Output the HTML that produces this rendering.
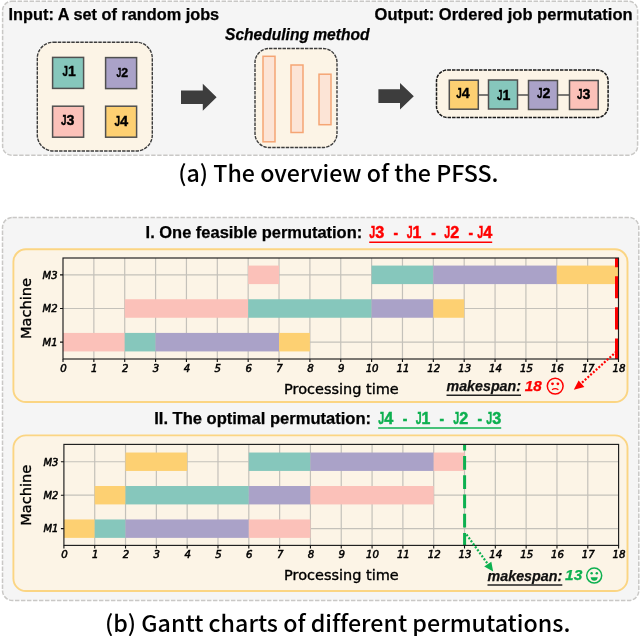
<!DOCTYPE html>
<html lang="en"><head><meta charset="utf-8"><title>PFSS overview and Gantt charts</title>
<style>
html,body{margin:0;padding:0;background:#fff;}
svg{display:block;}
.cb{font-family:"Liberation Sans",sans-serif;font-weight:bold;color:#000;fill:currentColor;stroke:currentColor;stroke-width:0.25px;}
.cbi{font-family:"Liberation Sans",sans-serif;font-weight:bold;font-style:italic;color:#000;fill:currentColor;stroke:currentColor;stroke-width:0.25px;}
.cap{font-family:"Noto Sans CJK SC","DejaVu Sans","Liberation Sans",sans-serif;font-weight:500;fill:#000;font-variant-ligatures:none;font-feature-settings:"liga" 0,"clig" 0;}
.dv{font-family:"DejaVu Sans",sans-serif;fill:#000;stroke:#000;stroke-width:0.35px;}
.tk{font-family:"DejaVu Sans",sans-serif;font-style:italic;fill:#000;stroke:#000;stroke-width:0.5px;}
</style></head><body>
<svg width="640" height="636" viewBox="0 0 640 636" role="img" aria-label="PFSS overview and Gantt charts">

<rect x="2.6" y="1.3" width="635" height="153.9" rx="9" fill="#f5f5f5" stroke="#c9c8c6" stroke-width="1.5" stroke-dasharray="4.4 1.6"/>
<text x="8.6" y="20.3" class="cb" font-size="15.8" text-anchor="start" textLength="210.6" lengthAdjust="spacingAndGlyphs" >Input: A set of random jobs</text>
<text x="225" y="39.8" class="cbi" font-size="15.8" text-anchor="start" textLength="144.5" lengthAdjust="spacingAndGlyphs" >Scheduling method</text>
<text x="374.6" y="20.3" class="cb" font-size="15.8" text-anchor="start" textLength="258" lengthAdjust="spacingAndGlyphs" >Output: Ordered job permutation</text>
<rect x="37.3" y="42.2" width="115" height="108.8" rx="16" fill="#fcf4e6" stroke="#3c3c3c" stroke-width="1.4" stroke-dasharray="3.45 1.05"/>
<rect x="52.6" y="57.4" width="31" height="31" fill="#86c7bc" stroke="#505050" stroke-width="1.5"/>
<text y="76.0" class="cb" font-size="14.6" style="stroke-width:0.4px"><tspan x="62.6" textLength="5.41" lengthAdjust="spacingAndGlyphs">J</tspan><tspan x="68.01" textLength="7.79" lengthAdjust="spacingAndGlyphs">1</tspan></text>
<rect x="105.6" y="57.6" width="31" height="31" fill="#aaa2c8" stroke="#505050" stroke-width="1.5"/>
<text y="76.6" class="cb" font-size="12.6" style="stroke-width:0.4px"><tspan x="116.5" textLength="4.76" lengthAdjust="spacingAndGlyphs">J</tspan><tspan x="121.26" textLength="6.84" lengthAdjust="spacingAndGlyphs">2</tspan></text>
<rect x="52.6" y="106.2" width="31" height="31" fill="#fbc1b9" stroke="#505050" stroke-width="1.5"/>
<text y="124.7" class="cb" font-size="14" style="stroke-width:0.4px"><tspan x="61" textLength="5.49" lengthAdjust="spacingAndGlyphs">J</tspan><tspan x="66.49" textLength="7.91" lengthAdjust="spacingAndGlyphs">3</tspan></text>
<rect x="105.6" y="106.2" width="31" height="31" fill="#fdd072" stroke="#505050" stroke-width="1.5"/>
<text y="125.6" class="cb" font-size="14.5" style="stroke-width:0.4px"><tspan x="114.4" textLength="5.66" lengthAdjust="spacingAndGlyphs">J</tspan><tspan x="120.06" textLength="8.14" lengthAdjust="spacingAndGlyphs">4</tspan></text>
<path d="M181 90.5H202.8V83.8L216.6 97.25L202.8 110.7V104H181Z" fill="#3d3d3d"/>
<path d="M378.4 89.3H400V83L413.8 96.2L400 109.4V103H378.4Z" fill="#3d3d3d"/>
<rect x="255" y="48.5" width="82" height="99" rx="14" fill="#fcf4e6" stroke="#3c3c3c" stroke-width="1.4" stroke-dasharray="3.45 1.05"/>
<rect x="263" y="56.3" width="12" height="85.5" fill="#fce4d6" stroke="#f5a574" stroke-width="1.5"/>
<rect x="291" y="65" width="12" height="67.5" fill="#fce4d6" stroke="#f5a574" stroke-width="1.5"/>
<rect x="319" y="74.2" width="12" height="50.5" fill="#fce4d6" stroke="#f5a574" stroke-width="1.5"/>
<rect x="436.5" y="70" width="171.6" height="47.5" rx="11" fill="#fcf4e6" stroke="#1a1a1a" stroke-width="1.5" stroke-dasharray="3.45 1.05"/>
<path d="M478 95H489M518 95H529M558 95H569" stroke="#505050" stroke-width="1.7"/>
<rect x="449.3" y="80.2" width="29" height="29" fill="#fdd072" stroke="#505050" stroke-width="1.5"/>
<text y="98.2" class="cb" font-size="15.2" style="stroke-width:0.4px"><tspan x="456.2" textLength="5.49" lengthAdjust="spacingAndGlyphs">J</tspan><tspan x="461.69" textLength="7.91" lengthAdjust="spacingAndGlyphs">4</tspan></text>
<rect x="488.5" y="80" width="29" height="29" fill="#86c7bc" stroke="#505050" stroke-width="1.5"/>
<text y="99.6" class="cb" font-size="15.2" style="stroke-width:0.4px"><tspan x="496.9" textLength="5.49" lengthAdjust="spacingAndGlyphs">J</tspan><tspan x="502.39" textLength="7.91" lengthAdjust="spacingAndGlyphs">1</tspan></text>
<rect x="528.5" y="80.5" width="29" height="29" fill="#aaa2c8" stroke="#505050" stroke-width="1.5"/>
<text y="98.2" class="cb" font-size="15.2" style="stroke-width:0.4px"><tspan x="537" textLength="5.49" lengthAdjust="spacingAndGlyphs">J</tspan><tspan x="542.49" textLength="7.91" lengthAdjust="spacingAndGlyphs">2</tspan></text>
<rect x="569.5" y="80.5" width="28.7" height="29" fill="#fbc1b9" stroke="#505050" stroke-width="1.5"/>
<text y="98.9" class="cb" font-size="15.2" style="stroke-width:0.4px"><tspan x="577.1" textLength="5.49" lengthAdjust="spacingAndGlyphs">J</tspan><tspan x="582.59" textLength="7.91" lengthAdjust="spacingAndGlyphs">3</tspan></text>
<text x="178.2" y="182" class="cap" font-size="22.6" text-anchor="start" textLength="320.3" lengthAdjust="spacingAndGlyphs" >(a) The overview of the PFSS.</text>
<rect x="2.5" y="217.4" width="636.3" height="383.1" rx="10" fill="#f5f5f5" stroke="#c9c8c6" stroke-width="1.5" stroke-dasharray="4.4 1.6"/>
<text x="145.6" y="237.6" class="cb" font-size="16" text-anchor="start" textLength="216.6" lengthAdjust="spacingAndGlyphs" >I. One feasible permutation:</text>
<text y="238.2" class="cb" font-size="15.6" style="color:#ff0000;stroke-width:0.45px"><tspan x="369.2" textLength="6.0" lengthAdjust="spacingAndGlyphs">J</tspan><tspan x="375.2" textLength="9.0" lengthAdjust="spacingAndGlyphs">3</tspan> <tspan x="393.6" textLength="4.6" lengthAdjust="spacingAndGlyphs">-</tspan> <tspan x="406.7" textLength="5.88" lengthAdjust="spacingAndGlyphs">J</tspan><tspan x="412.58" textLength="8.82" lengthAdjust="spacingAndGlyphs">1</tspan> <tspan x="431.2" textLength="4.6" lengthAdjust="spacingAndGlyphs">-</tspan> <tspan x="444.2" textLength="6.0" lengthAdjust="spacingAndGlyphs">J</tspan><tspan x="450.2" textLength="9.0" lengthAdjust="spacingAndGlyphs">2</tspan> <tspan x="468.4" textLength="4.6" lengthAdjust="spacingAndGlyphs">-</tspan> <tspan x="477.2" textLength="6.0" lengthAdjust="spacingAndGlyphs">J</tspan><tspan x="483.2" textLength="9.0" lengthAdjust="spacingAndGlyphs">4</tspan></text>
<path d="M369.2 242.2H492.2" stroke="#ff0000" stroke-width="1.5"/>
<text x="154.2" y="423.6" class="cb" font-size="16" text-anchor="start" textLength="216.8" lengthAdjust="spacingAndGlyphs" >II. The optimal permutation:</text>
<text y="424.2" class="cb" font-size="15.6" style="color:#0db050;stroke-width:0.45px"><tspan x="378.2" textLength="6.0" lengthAdjust="spacingAndGlyphs">J</tspan><tspan x="384.2" textLength="9.0" lengthAdjust="spacingAndGlyphs">4</tspan> <tspan x="402.7" textLength="4.6" lengthAdjust="spacingAndGlyphs">-</tspan> <tspan x="415.7" textLength="5.88" lengthAdjust="spacingAndGlyphs">J</tspan><tspan x="421.58" textLength="8.82" lengthAdjust="spacingAndGlyphs">1</tspan> <tspan x="439.6" textLength="4.6" lengthAdjust="spacingAndGlyphs">-</tspan> <tspan x="453.2" textLength="6.0" lengthAdjust="spacingAndGlyphs">J</tspan><tspan x="459.2" textLength="9.0" lengthAdjust="spacingAndGlyphs">2</tspan> <tspan x="477.4" textLength="4.6" lengthAdjust="spacingAndGlyphs">-</tspan> <tspan x="486.2" textLength="6.0" lengthAdjust="spacingAndGlyphs">J</tspan><tspan x="492.2" textLength="9.0" lengthAdjust="spacingAndGlyphs">3</tspan></text>
<path d="M378.2 428.1H501.2" stroke="#0db050" stroke-width="1.5"/>
<rect x="13.4" y="249.3" width="614.1" height="152.7" rx="12.5" fill="#fcf4e6" stroke="#fbd583" stroke-width="1.9"/>
<path d="M93.86 258V359M124.72 258V359M155.58 258V359M186.44 258V359M217.31 258V359M248.17 258V359M279.03 258V359M309.89 258V359M340.75 258V359M371.61 258V359M402.47 258V359M433.33 258V359M464.19 258V359M495.06 258V359M525.92 258V359M556.78 258V359M587.64 258V359M63 274.83H618.5M63 308.50H618.5M63 342.17H618.5" stroke="#c4c1ba" stroke-width="1.2" fill="none"/>
<rect x="63.00" y="332.91" width="61.72" height="18.52" fill="#fbc1b9"/>
<rect x="124.72" y="332.91" width="30.86" height="18.52" fill="#86c7bc"/>
<rect x="155.58" y="332.91" width="123.44" height="18.52" fill="#aaa2c8"/>
<rect x="279.03" y="332.91" width="30.86" height="18.52" fill="#fdd072"/>
<rect x="124.72" y="299.24" width="123.44" height="18.52" fill="#fbc1b9"/>
<rect x="248.17" y="299.24" width="123.44" height="18.52" fill="#86c7bc"/>
<rect x="371.61" y="299.24" width="61.72" height="18.52" fill="#aaa2c8"/>
<rect x="433.33" y="299.24" width="30.86" height="18.52" fill="#fdd072"/>
<rect x="248.17" y="265.58" width="30.86" height="18.52" fill="#fbc1b9"/>
<rect x="371.61" y="265.58" width="61.72" height="18.52" fill="#86c7bc"/>
<rect x="433.33" y="265.58" width="123.44" height="18.52" fill="#aaa2c8"/>
<rect x="556.78" y="265.58" width="61.72" height="18.52" fill="#fdd072"/>
<path d="M616.5 258V359" stroke="#ff0000" stroke-width="3" stroke-dasharray="22.1 9" stroke-dashoffset="12.9"/>
<rect x="63" y="258" width="555.5" height="101" fill="none" stroke="#1c1c1c" stroke-width="1.15"/>
<path d="M63.00 359v3M93.86 359v3M124.72 359v3M155.58 359v3M186.44 359v3M217.31 359v3M248.17 359v3M279.03 359v3M309.89 359v3M340.75 359v3M371.61 359v3M402.47 359v3M433.33 359v3M464.19 359v3M495.06 359v3M525.92 359v3M556.78 359v3M587.64 359v3M618.50 359v3M63 274.83h-3M63 308.50h-3M63 342.17h-3" stroke="#111" stroke-width="1.1" fill="none"/>
<text x="63.50" y="371.5" class="tk" font-size="10.2" text-anchor="middle" >0</text>
<text x="94.36" y="371.5" class="tk" font-size="10.2" text-anchor="middle" >1</text>
<text x="125.22" y="371.5" class="tk" font-size="10.2" text-anchor="middle" >2</text>
<text x="156.08" y="371.5" class="tk" font-size="10.2" text-anchor="middle" >3</text>
<text x="186.94" y="371.5" class="tk" font-size="10.2" text-anchor="middle" >4</text>
<text x="217.81" y="371.5" class="tk" font-size="10.2" text-anchor="middle" >5</text>
<text x="248.67" y="371.5" class="tk" font-size="10.2" text-anchor="middle" >6</text>
<text x="279.53" y="371.5" class="tk" font-size="10.2" text-anchor="middle" >7</text>
<text x="310.39" y="371.5" class="tk" font-size="10.2" text-anchor="middle" >8</text>
<text x="341.25" y="371.5" class="tk" font-size="10.2" text-anchor="middle" >9</text>
<text x="372.11" y="371.5" class="tk" font-size="10.2" text-anchor="middle" >10</text>
<text x="402.97" y="371.5" class="tk" font-size="10.2" text-anchor="middle" >11</text>
<text x="433.83" y="371.5" class="tk" font-size="10.2" text-anchor="middle" >12</text>
<text x="464.69" y="371.5" class="tk" font-size="10.2" text-anchor="middle" >13</text>
<text x="495.56" y="371.5" class="tk" font-size="10.2" text-anchor="middle" >14</text>
<text x="526.42" y="371.5" class="tk" font-size="10.2" text-anchor="middle" >15</text>
<text x="557.28" y="371.5" class="tk" font-size="10.2" text-anchor="middle" >16</text>
<text x="588.14" y="371.5" class="tk" font-size="10.2" text-anchor="middle" >17</text>
<text x="619.00" y="371.5" class="tk" font-size="10.2" text-anchor="middle" >18</text>
<text x="57.5" y="278.63" class="tk" font-size="10" text-anchor="end" >M3</text>
<text x="57.5" y="312.30" class="tk" font-size="10" text-anchor="end" >M2</text>
<text x="57.5" y="345.97" class="tk" font-size="10" text-anchor="end" >M1</text>
<text transform="translate(31.3 308.5) rotate(-90)" class="dv" font-size="14.6" text-anchor="middle">Machine</text>
<text x="284" y="393.6" class="dv" font-size="14.2" text-anchor="start" textLength="114.8" lengthAdjust="spacingAndGlyphs" >Processing time</text>
<path d="M616.5 351.5L581 383.5" stroke="#ff0000" stroke-width="2.2" stroke-dasharray="2 1.7"/>
<path d="M573.8 389.8L578.6 380.6L584.4 387Z" fill="#ff0000"/>
<text x="446.5" y="390.8" class="cbi" font-size="15" text-anchor="start" textLength="74.5" lengthAdjust="spacingAndGlyphs" style="color:#111">makespan:</text>
<path d="M446.5 395.3H521" stroke="#222" stroke-width="1.5"/>
<text x="524.8" y="390.6" class="cbi" font-size="15.3" text-anchor="start" textLength="17" lengthAdjust="spacingAndGlyphs" style="color:#ff0000">18</text>
<g stroke="#ff0000" fill="none" stroke-width="1.5"><circle cx="555.2" cy="386.1" r="7.9"/><path d="M552 389.8Q555.2 387.6 558.4 389.8" stroke-width="1.3"/></g><circle cx="552.5" cy="383.8" r="1.4" fill="#ff0000"/><circle cx="557.9" cy="383.8" r="1.4" fill="#ff0000"/>
<rect x="13.4" y="435.4" width="614.1" height="155.60000000000002" rx="12.5" fill="#fcf4e6" stroke="#fbd583" stroke-width="1.9"/>
<path d="M94.72 445V545.4M125.53 445V545.4M156.35 445V545.4M187.17 445V545.4M217.98 445V545.4M248.80 445V545.4M279.62 445V545.4M310.43 445V545.4M341.25 445V545.4M372.07 445V545.4M402.88 445V545.4M433.70 445V545.4M464.52 445V545.4M495.33 445V545.4M526.15 445V545.4M556.97 445V545.4M587.78 445V545.4M63.9 461.73H618.6M63.9 495.20H618.6M63.9 528.67H618.6" stroke="#c4c1ba" stroke-width="1.2" fill="none"/>
<rect x="63.90" y="519.46" width="30.82" height="18.41" fill="#fdd072"/>
<rect x="94.72" y="519.46" width="30.82" height="18.41" fill="#86c7bc"/>
<rect x="125.53" y="519.46" width="123.27" height="18.41" fill="#aaa2c8"/>
<rect x="248.80" y="519.46" width="61.63" height="18.41" fill="#fbc1b9"/>
<rect x="94.72" y="486.00" width="30.82" height="18.41" fill="#fdd072"/>
<rect x="125.53" y="486.00" width="123.27" height="18.41" fill="#86c7bc"/>
<rect x="248.80" y="486.00" width="61.63" height="18.41" fill="#aaa2c8"/>
<rect x="310.43" y="486.00" width="123.27" height="18.41" fill="#fbc1b9"/>
<rect x="125.53" y="452.53" width="61.63" height="18.41" fill="#fdd072"/>
<rect x="248.80" y="452.53" width="61.63" height="18.41" fill="#86c7bc"/>
<rect x="310.43" y="452.53" width="123.27" height="18.41" fill="#aaa2c8"/>
<rect x="433.70" y="452.53" width="30.82" height="18.41" fill="#fbc1b9"/>
<path d="M464.6 445V545.4" stroke="#0db050" stroke-width="3" stroke-dasharray="13.8 5.5" stroke-dashoffset="8.4"/>
<rect x="63.9" y="444.4" width="554.7" height="101.0" fill="none" stroke="#1c1c1c" stroke-width="1.15"/>
<path d="M63.90 545.4v3M94.72 545.4v3M125.53 545.4v3M156.35 545.4v3M187.17 545.4v3M217.98 545.4v3M248.80 545.4v3M279.62 545.4v3M310.43 545.4v3M341.25 545.4v3M372.07 545.4v3M402.88 545.4v3M433.70 545.4v3M464.52 545.4v3M495.33 545.4v3M526.15 545.4v3M556.97 545.4v3M587.78 545.4v3M618.60 545.4v3M63.9 461.73h-3M63.9 495.20h-3M63.9 528.67h-3" stroke="#111" stroke-width="1.1" fill="none"/>
<text x="64.40" y="557.9" class="tk" font-size="10.2" text-anchor="middle" >0</text>
<text x="95.22" y="557.9" class="tk" font-size="10.2" text-anchor="middle" >1</text>
<text x="126.03" y="557.9" class="tk" font-size="10.2" text-anchor="middle" >2</text>
<text x="156.85" y="557.9" class="tk" font-size="10.2" text-anchor="middle" >3</text>
<text x="187.67" y="557.9" class="tk" font-size="10.2" text-anchor="middle" >4</text>
<text x="218.48" y="557.9" class="tk" font-size="10.2" text-anchor="middle" >5</text>
<text x="249.30" y="557.9" class="tk" font-size="10.2" text-anchor="middle" >6</text>
<text x="280.12" y="557.9" class="tk" font-size="10.2" text-anchor="middle" >7</text>
<text x="310.93" y="557.9" class="tk" font-size="10.2" text-anchor="middle" >8</text>
<text x="341.75" y="557.9" class="tk" font-size="10.2" text-anchor="middle" >9</text>
<text x="372.57" y="557.9" class="tk" font-size="10.2" text-anchor="middle" >10</text>
<text x="403.38" y="557.9" class="tk" font-size="10.2" text-anchor="middle" >11</text>
<text x="434.20" y="557.9" class="tk" font-size="10.2" text-anchor="middle" >12</text>
<text x="465.02" y="557.9" class="tk" font-size="10.2" text-anchor="middle" >13</text>
<text x="495.83" y="557.9" class="tk" font-size="10.2" text-anchor="middle" >14</text>
<text x="526.65" y="557.9" class="tk" font-size="10.2" text-anchor="middle" >15</text>
<text x="557.47" y="557.9" class="tk" font-size="10.2" text-anchor="middle" >16</text>
<text x="588.28" y="557.9" class="tk" font-size="10.2" text-anchor="middle" >17</text>
<text x="619.10" y="557.9" class="tk" font-size="10.2" text-anchor="middle" >18</text>
<text x="58.4" y="465.53" class="tk" font-size="10" text-anchor="end" >M3</text>
<text x="58.4" y="499.00" class="tk" font-size="10" text-anchor="end" >M2</text>
<text x="58.4" y="532.47" class="tk" font-size="10" text-anchor="end" >M1</text>
<text transform="translate(31.3 495.2) rotate(-90)" class="dv" font-size="14.6" text-anchor="middle">Machine</text>
<text x="284" y="580.0" class="dv" font-size="14.2" text-anchor="start" textLength="114.8" lengthAdjust="spacingAndGlyphs" >Processing time</text>
<path d="M466.5 534.5L488.5 565" stroke="#0db050" stroke-width="2.2" stroke-dasharray="2 1.7"/>
<path d="M493.2 571.6L484.2 566.6L491.3 561.7Z" fill="#0db050"/>
<text x="487.5" y="580.6" class="cbi" font-size="15" text-anchor="start" textLength="74.8" lengthAdjust="spacingAndGlyphs" style="color:#111">makespan:</text>
<path d="M487.5 585.1H562.3" stroke="#222" stroke-width="1.5"/>
<text x="565" y="580.4" class="cbi" font-size="15.3" text-anchor="start" textLength="17.3" lengthAdjust="spacingAndGlyphs" style="color:#0db050">13</text>
<g stroke="#0db050" fill="none" stroke-width="1.5"><circle cx="594.2" cy="575.6" r="7.5"/></g><path d="M590.6 577.2H597.8Q597.2 580.8 594.2 580.8Q591.2 580.8 590.6 577.2Z" fill="#0db050"/><circle cx="591.6" cy="573.2" r="1.25" fill="#0db050"/><circle cx="596.8" cy="573.2" r="1.25" fill="#0db050"/>
<text x="104.9" y="632.1" class="cap" font-size="22.6" text-anchor="start" textLength="465.5" lengthAdjust="spacingAndGlyphs" >(b) Gantt charts of different permutations.</text>
</svg></body></html>
